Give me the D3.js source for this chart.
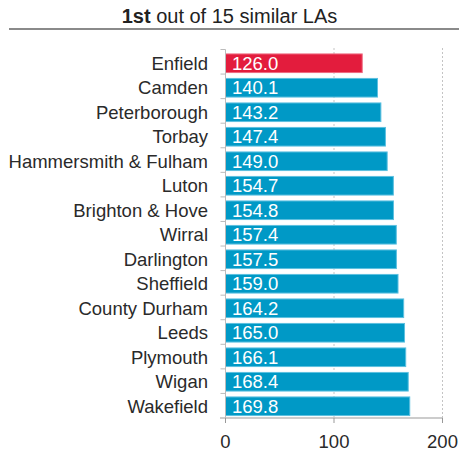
<!DOCTYPE html>
<html><head><meta charset="utf-8">
<script src="https://cdn.jsdelivr.net/npm/d3@7"></script>
<style>body{margin:0;background:#fff;} text{font-family:"Liberation Sans",Arial,Helvetica,sans-serif;}</style>
</head><body>
<svg id="c" width="459" height="458"></svg>
<script>
const categories = ["Enfield","Camden","Peterborough","Torbay","Hammersmith & Fulham","Luton","Brighton & Hove","Wirral","Darlington","Sheffield","County Durham","Leeds","Plymouth","Wigan","Wakefield"];
const values = [126.0,140.1,143.2,147.4,149.0,154.7,154.8,157.4,157.5,159.0,164.2,165.0,166.1,168.4,169.8];
const highlight = "Enfield";
const xTicks = [0,100,200];

const svg = d3.select("#c");
const x = d3.scaleLinear().domain([0,200]).range([225.5,442.5]);
const y = d3.scaleBand().domain(categories).range([51,418.5]).paddingInner(0.24).paddingOuter(0.12);
const yAxisBand = d3.scaleBand().domain(categories).range([49.5,418]);

// title
const t = svg.append("text").attr("x",229.5).attr("y",22.5).attr("text-anchor","middle")
  .attr("font-size",20).attr("fill","#222");
t.append("tspan").attr("font-weight","bold").text("1st");
t.append("tspan").text(" out of 15 similar LAs");
svg.append("line").attr("x1",9).attr("x2",459).attr("y1",29).attr("y2",29)
  .attr("stroke","#8a8a8a").attr("stroke-width",2);

// gridlines
svg.append("g").selectAll("line").data(xTicks.slice(1)).join("line")
  .attr("x1",d=>x(d)).attr("x2",d=>x(d)).attr("y1",48).attr("y2",418)
  .attr("stroke","#c4c4c4").attr("stroke-width",1).attr("stroke-dasharray","2,2");

// bars
svg.append("g").selectAll("rect").data(values).join("rect")
  .attr("x",x(0)).attr("y",(d,i)=>y(categories[i]))
  .attr("width",d=>x(d)-x(0)).attr("height",y.bandwidth())
  .attr("fill",(d,i)=>categories[i]===highlight?"#e31c3d":"#0099c6")
  .attr("stroke",(d,i)=>categories[i]===highlight?"#ee6a80":"#5cc0e0").attr("stroke-width",1);

// value labels
svg.append("g").selectAll("text").data(values).join("text")
  .attr("x",x(0)+6.5).attr("y",(d,i)=>y(categories[i])+y.bandwidth()/2)
  .attr("dy","0.36em").attr("font-size",18.5).attr("fill","#fff")
  .text(d=>d3.format(".1f")(d));

// y axis
const ya = svg.append("g").attr("transform",`translate(${x(0)},0)`);
ya.append("line").attr("x1",0).attr("x2",0).attr("y1",49.5).attr("y2",418).attr("stroke","#bbb");
ya.selectAll("line.tk").data(categories).join("line").attr("class","tk")
  .attr("x1",-5).attr("x2",0).attr("y1",d=>yAxisBand(d)).attr("y2",d=>yAxisBand(d)).attr("stroke","#bbb");
ya.selectAll("text").data(categories).join("text")
  .attr("x",-17.5).attr("y",d=>y(d)+y.bandwidth()/2).attr("dy","0.36em")
  .attr("text-anchor","end").attr("font-size",18.5).attr("fill","#2a2a2a").text(d=>d);

// x axis
const xa = svg.append("g").attr("transform","translate(0,418)");
xa.append("line").attr("x1",220).attr("x2",x(200)).attr("y1",0).attr("y2",0).attr("stroke","#bbb").attr("stroke-width",1.5);
xa.selectAll("line.tk").data(xTicks).join("line").attr("class","tk")
  .attr("x1",d=>x(d)).attr("x2",d=>x(d)).attr("y1",0).attr("y2",5).attr("stroke","#999");
xa.selectAll("text").data(xTicks).join("text")
  .attr("x",d=>x(d)).attr("y",30).attr("text-anchor","middle")
  .attr("font-size",18.5).attr("fill","#2a2a2a").text(d=>d);
</script>
</body></html>
